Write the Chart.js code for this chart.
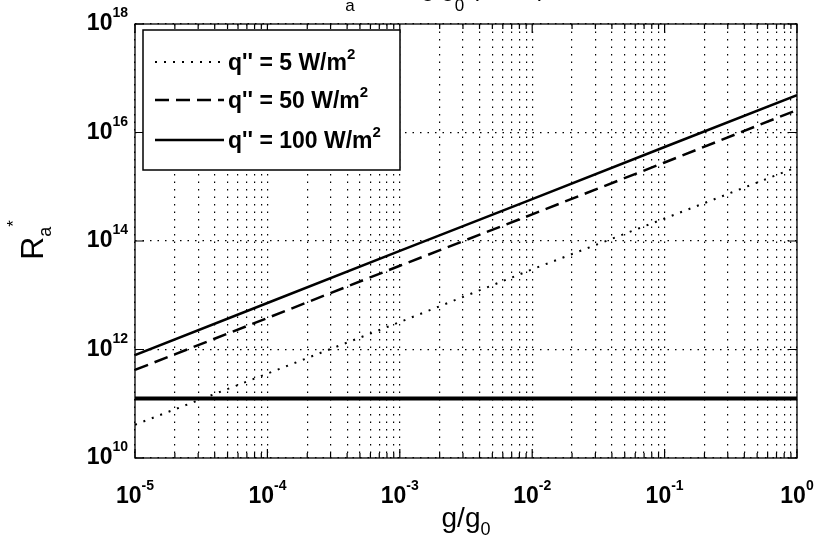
<!DOCTYPE html>
<html>
<head>
<meta charset="utf-8">
<style>
  html, body { margin: 0; padding: 0; background: #fff; }
</style>
</head>
<body>
<canvas id="raChart" width="821" height="536"></canvas>
<script src="https://cdn.jsdelivr.net/npm/chart.js"></script>
<script>
// g/g0 sample points and Ra*
const gRatio = [1e-5, 1e-4, 1e-3, 1e-2, 1e-1, 1];
const ra5   = [4.1e10, 3.6e11, 3.2e12, 3.0e13, 2.6e14, 2.3e15];
const ra50  = [4.2e11, 3.8e12, 3.5e13, 3.1e14, 2.8e15, 2.6e16];
const ra100 = [7.9e11, 7.2e12, 6.6e13, 5.9e14, 5.4e15, 4.9e16];
// thick horizontal reference line
const limitG  = [1e-5, 1];
const limitRa = [1.25e11, 1.25e11];

const fluxLabels = ['5', '50', '100'];
const xTicks = [1e-5, 1e-4, 1e-3, 1e-2, 1e-1, 1];
const xTickExp = ['-5', '-4', '-3', '-2', '-1', '0'];
const yTicks = [1e10, 1e12, 1e14, 1e16, 1e18];
const yTickExp = ['10', '12', '14', '16', '18'];

const FONT = '"Liberation Sans", Arial, sans-serif';

function pts(xs, ys) {
    return xs.map((x, i) => ({x: x, y: ys[i]}));
}

// minor grid positions 1..9 per decade
const xGrid = [];
xTicks.forEach((d, i) => {
    if (i == xTicks.length - 1) { xGrid.push(d); return; }
    for (let k = 1; k <= 9; k++) xGrid.push(k * d);
});

// text with a raised or lowered small part
function drawParts(ctx, x, y, parts, align) {
    let total = 0;
    parts.forEach(p => { ctx.font = p.font; p.w = ctx.measureText(p.t).width; total += p.w; });
    let cx = align == 'center' ? x - total / 2 : (align == 'right' ? x - total : x);
    ctx.textAlign = 'left';
    ctx.textBaseline = 'alphabetic';
    parts.forEach(p => {
        ctx.font = p.font;
        ctx.fillText(p.t, cx, y + (p.dy || 0));
        cx += p.w;
    });
}

const matlabLook = {
    id: 'matlabLook',
    afterDraw(chart) {
        const {ctx, chartArea: a, scales} = chart;
        const xs = scales.x, ys = scales.y;
        ctx.save();
        ctx.strokeStyle = '#000';
        ctx.fillStyle = '#000';

        // frame
        ctx.lineWidth = 1.3;
        ctx.setLineDash([]);
        ctx.strokeRect(a.left, a.top, a.right - a.left, a.bottom - a.top);

        // inward ticks
        ctx.lineWidth = 1.2;
        xGrid.forEach(v => {
            const px = xs.getPixelForValue(v);
            const major = xTicks.includes(v);
            const len = major ? 9 : 5;
            ctx.beginPath();
            ctx.moveTo(px, a.bottom); ctx.lineTo(px, a.bottom - len);
            ctx.moveTo(px, a.top); ctx.lineTo(px, a.top + len);
            ctx.stroke();
        });
        yTicks.forEach(v => {
            const py = ys.getPixelForValue(v);
            ctx.beginPath();
            ctx.moveTo(a.left, py); ctx.lineTo(a.left + 9, py);
            ctx.moveTo(a.right, py); ctx.lineTo(a.right - 9, py);
            ctx.stroke();
        });

        // tick labels
        const big = 'bold 23px ' + FONT, small = 'bold 14px ' + FONT;
        xTicks.forEach((v, i) => {
            const px = xs.getPixelForValue(v);
            drawParts(ctx, px, a.bottom + 45, [
                {t: '10', font: big},
                {t: xTickExp[i], font: small, dy: -13}
            ], 'center');
        });
        yTicks.forEach((v, i) => {
            const py = ys.getPixelForValue(v);
            drawParts(ctx, a.left - 7, py + 6, [
                {t: '10', font: big},
                {t: yTickExp[i], font: small, dy: -13}
            ], 'right');
        });

        // axis titles
        drawParts(ctx, 466, 527, [
            {t: 'g/g', font: '28px ' + FONT},
            {t: '0', font: '18px ' + FONT, dy: 8}
        ], 'center');
        ctx.save();
        ctx.translate(43, 240);
        ctx.rotate(-Math.PI / 2);
        drawParts(ctx, 0, 0, [
            {t: 'R', font: '32px ' + FONT},
            {t: 'a', font: '18px ' + FONT, dy: 8},
            {t: '*', font: '17px ' + FONT, dy: -24}
        ], 'center');
        ctx.restore();

        // title, mostly above the top edge of the figure
        drawParts(ctx, 328, -4, [
            {t: 'R', font: '24px ' + FONT},
            {t: 'a', font: '17px ' + FONT, dy: 15},
            {t: '*  vs.  ', font: '24px ' + FONT},
            {t: 'g/g', font: '24px ' + FONT},
            {t: '0', font: '17px ' + FONT, dy: 15},
            {t: ' (water)', font: '24px ' + FONT}
        ], 'left');

        // legend box
        const lx = 143, ly = 30, lw = 257, lh = 140;
        ctx.fillStyle = '#fff';
        ctx.fillRect(lx, ly, lw, lh);
        ctx.fillStyle = '#000';
        ctx.lineWidth = 1.5;
        ctx.strokeRect(lx, ly, lw, lh);
        const rows = [62, 100, 140];
        chart.data.datasets.slice(0, 3).forEach((ds, i) => {
            const y = rows[i];
            ctx.lineWidth = ds.borderWidth;
            ctx.setLineDash(ds.borderDash || []);
            ctx.beginPath();
            ctx.moveTo(155, y); ctx.lineTo(224, y);
            ctx.stroke();
            ctx.setLineDash([]);
            drawParts(ctx, 228, y + 8, [
                {t: "q'' = " + fluxLabels[i] + ' W/m', font: 'bold 23px ' + FONT},
                {t: '2', font: 'bold 15px ' + FONT, dy: -11}
            ], 'left');
        });
        ctx.restore();
    }
};

const raChart = new Chart(document.getElementById('raChart'), {
    type: 'line',
    data: {
        datasets: [
            { label: "q'' = 5 W/m2", data: pts(gRatio, ra5), borderColor: '#000', borderWidth: 2, borderDash: [2, 7] },
            { label: "q'' = 50 W/m2", data: pts(gRatio, ra50), borderColor: '#000', borderWidth: 2.5, borderDash: [14, 7] },
            { label: "q'' = 100 W/m2", data: pts(gRatio, ra100), borderColor: '#000', borderWidth: 2.5 },
            { label: 'limit', data: pts(limitG, limitRa), borderColor: '#000', borderWidth: 4 }
        ]
    },
    options: {
        responsive: false,
        animation: false,
        devicePixelRatio: 1,
        layout: { padding: { left: 135, right: 24, top: 24, bottom: 78 } },
        elements: { point: { radius: 0 }, line: { tension: 0 } },
        plugins: { legend: { display: false }, tooltip: { enabled: false } },
        scales: {
            x: {
                type: 'logarithmic', min: 1e-5, max: 1,
                afterBuildTicks: s => { s.ticks = xGrid.map(v => ({value: v})); },
                ticks: { display: false },
                grid: { color: '#000', lineWidth: 1.2, drawTicks: false },
                border: { display: false, dash: [1.5, 6] }
            },
            y: {
                type: 'logarithmic', min: 1e10, max: 1e18,
                afterBuildTicks: s => { s.ticks = yTicks.map(v => ({value: v})); },
                ticks: { display: false },
                grid: { color: '#000', lineWidth: 1.2, drawTicks: false },
                border: { display: false, dash: [1.5, 6] }
            }
        }
    },
    plugins: [matlabLook]
});
</script>
</body>
</html>
